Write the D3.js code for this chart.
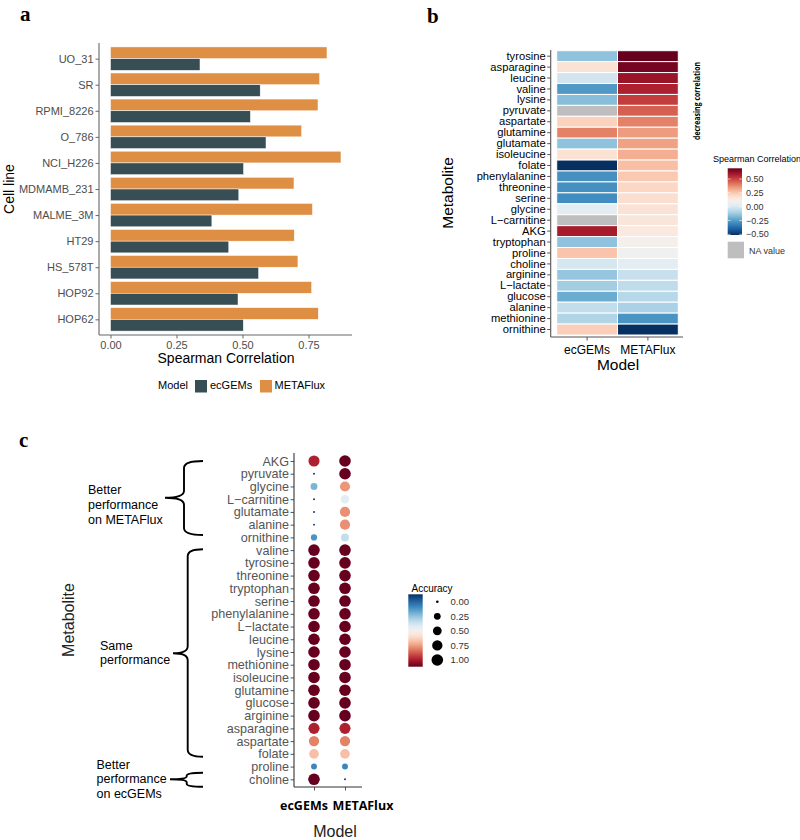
<!DOCTYPE html>
<html><head><meta charset="utf-8">
<script src="https://cdn.jsdelivr.net/npm/d3@7"></script>
<style>body{margin:0;background:#fff}</style>
</head><body>
<svg id="chart" width="800" height="840"></svg>
<script>
// ---------- DATA ----------
const cellLines = ["UO_31","SR","RPMI_8226","O_786","NCI_H226","MDMAMB_231","MALME_3M","HT29","HS_578T","HOP92","HOP62"];
const cellEcGEMs   = [0.339,0.567,0.530,0.589,0.504,0.486,0.384,0.448,0.561,0.483,0.503];
const cellMETAFlux = [0.820,0.792,0.786,0.724,0.873,0.695,0.765,0.696,0.710,0.762,0.787];
const modelNames = ["ecGEMs","METAFlux"];
const corrTicks = [0, 0.25, 0.5, 0.75];

const heatMetabolites = ["tyrosine","asparagine","leucine","valine","lysine","pyruvate","aspartate","glutamine","glutamate","isoleucine","folate","phenylalanine","threonine","serine","glycine","L\u2212carnitine","AKG","tryptophan","proline","choline","arginine","L\u2212lactate","glucose","alanine","methionine","ornithine"];
const heatEcGEMs   = [-0.151,0.175,-0.018,-0.26,-0.163,null,0.223,0.392,-0.151,0.175,-0.513,-0.284,-0.284,-0.29,0.03,null,0.585,-0.151,0.26,-0.006,-0.139,-0.115,-0.211,-0.054,-0.09,0.235];
const heatMETAFlux = [0.694,0.67,0.61,0.573,0.513,0.453,0.392,0.344,0.332,0.308,0.272,0.247,0.211,0.187,0.169,0.157,0.145,0.103,0.078,0.03,-0.042,-0.06,-0.078,-0.103,-0.272,-0.513];
const heatLimits = [-0.513, 0.694];
const heatTicks = [0.5, 0.25, 0, -0.25, -0.5];

const dotMetabolites = ["AKG","pyruvate","glycine","L\u2212carnitine","glutamate","alanine","ornithine","valine","tyrosine","threonine","tryptophan","serine","phenylalanine","L\u2212lactate","leucine","lysine","methionine","isoleucine","glutamine","glucose","arginine","asparagine","aspartate","folate","proline","choline"];
const accEcGEMs   = [0.9,0,0.27,0,0,0,0.2,1,1,1,1,1,1,1,1,1,1,1,1,1,1,0.9,0.75,0.65,0.17,1];
const accMETAFlux = [1,1,0.72,0.45,0.73,0.73,0.38,1,1,1,1,1,1,1,1,1,1,1,1,1,1,0.9,0.75,0.65,0.17,0];
const accTicks = [0, 0.25, 0.5, 0.75, 1];

const colEc = "#374E55", colMF = "#DF8F44";
const sans = "'Liberation Sans', Arial, sans-serif";

const svg = d3.select("#chart");
svg.append("rect").attr("width",800).attr("height",840).attr("fill","#fff");

function panelLabel(t, x, y){
  svg.append("text").attr("x",x).attr("y",y).text(t)
    .attr("font-family","'Liberation Serif', 'DejaVu Serif', serif")
    .attr("font-weight","bold").attr("font-size",21).attr("fill","#000");
}
panelLabel("a", 20, 21);
panelLabel("b", 427, 23);
panelLabel("c", 19, 447);

// ---------- PANEL A ----------
{
  const g = svg.append("g");
  const y = d3.scalePoint().domain(cellLines).range([43, 335]).padding(0.6);
  const step = y.step();
  const x = d3.scaleLinear().domain([0, 0.75]).range([110.5, 308.5]);
  const bw = step * 0.9 / 2;
  cellLines.forEach((c, i) => {
    g.append("rect").attr("x", x(0)).attr("y", y(c) - bw).attr("width", x(cellMETAFlux[i]) - x(0)).attr("height", bw)
      .attr("fill", colMF).attr("stroke","#fff").attr("stroke-width",0.5);
    g.append("rect").attr("x", x(0)).attr("y", y(c)).attr("width", x(cellEcGEMs[i]) - x(0)).attr("height", bw)
      .attr("fill", colEc).attr("stroke","#fff").attr("stroke-width",0.5);
  });
  const xAx = d3.axisBottom(x).tickValues(corrTicks).tickFormat(d3.format(".2f")).tickSize(3.5).tickPadding(3);
  const xg = g.append("g").attr("transform","translate(0,335)").call(xAx);
  xg.select(".domain").remove();
  g.append("line").attr("x1",99).attr("x2",352).attr("y1",335).attr("y2",335).attr("stroke","#666").attr("stroke-width",1.1);
  const yAx = d3.axisLeft(y).tickSize(3.5).tickPadding(2);
  const yg = g.append("g").attr("transform","translate(99,0)").call(yAx);
  yg.select(".domain").remove();
  g.append("line").attr("x1",99).attr("x2",99).attr("y1",43).attr("y2",335).attr("stroke","#666").attr("stroke-width",1.1);
  [xg, yg].forEach(a => {
    a.selectAll("text").attr("font-family",sans).attr("font-size",11).attr("fill","#4D4D4D");
    a.selectAll("line").attr("stroke","#666");
  });
  g.append("text").attr("x",226).attr("y",363).attr("text-anchor","middle").text("Spearman Correlation")
    .attr("font-family",sans).attr("font-size",14).attr("fill","#000");
  g.append("text").attr("transform","translate(14,189) rotate(-90)").attr("text-anchor","middle").text("Cell line")
    .attr("font-family",sans).attr("font-size",14).attr("fill","#000");
  // legend
  g.append("text").attr("x",158).attr("y",389).text("Model").attr("font-family",sans).attr("font-size",11);
  const leg = [[modelNames[0], colEc, 195, 210], [modelNames[1], colMF, 260, 274.5]];
  leg.forEach(([t,c,kx,tx]) => {
    g.append("rect").attr("x",kx).attr("y",380).attr("width",12).attr("height",12.5).attr("fill",c);
    g.append("text").attr("x",tx).attr("y",389).text(t).attr("font-family",sans).attr("font-size",11);
  });
}

// ---------- PANEL B ----------
{
  const g = svg.append("g");
  const x = d3.scaleBand().domain(modelNames).range([556.7, 678.3]);
  const y = d3.scaleBand().domain(heatMetabolites).range([50.7, 335]);
  const color = v => d3.interpolateRdBu(1 - (v - heatLimits[0]) / (heatLimits[1] - heatLimits[0]));
  const cols = [heatEcGEMs, heatMETAFlux];
  modelNames.forEach((m, j) => {
    heatMetabolites.forEach((met, i) => {
      const v = cols[j][i];
      g.append("rect").attr("x", x(m)).attr("y", y(met)).attr("width", x.bandwidth()).attr("height", y.bandwidth())
        .attr("fill", v === null ? "#BEBEBE" : color(v)).attr("stroke","#fff").attr("stroke-width",1);
    });
  });
  const yg = g.append("g").attr("transform","translate(550.7,0)").call(d3.axisLeft(y).tickSize(3.5).tickPadding(1.5));
  yg.select(".domain").remove();
  const xg = g.append("g").attr("transform","translate(0,337)").call(d3.axisBottom(x).tickSize(3.5).tickPadding(5));
  xg.select(".domain").remove();
  [xg, yg].forEach(a => {
    a.selectAll("text").attr("font-family",sans).attr("font-size",12).attr("fill","#000");
    a.selectAll("line").attr("stroke","#555");
  });
  yg.selectAll("text").attr("font-size",11.2);
  g.append("line").attr("x1",550.7).attr("x2",550.7).attr("y1",50).attr("y2",337).attr("stroke","#555").attr("stroke-width",1.1);
  g.append("line").attr("x1",550.7).attr("x2",683).attr("y1",337).attr("y2",337).attr("stroke","#555").attr("stroke-width",1.1);
  g.append("text").attr("x",618).attr("y",370).attr("text-anchor","middle").text("Model")
    .attr("font-family",sans).attr("font-size",15.5).attr("fill","#000");
  g.append("text").attr("transform","translate(453,193) rotate(-90)").attr("text-anchor","middle").text("Metabolite")
    .attr("font-family",sans).attr("font-size",15.5).attr("fill","#000");
  g.append("text").attr("transform","translate(700,101) rotate(-90)").attr("text-anchor","middle").text("decreasing correlation")
    .attr("font-family","'Open Sans', sans-serif").attr("font-weight","bold").attr("font-size",9)
    .attr("textLength",78).attr("lengthAdjust","spacingAndGlyphs").attr("fill","#000");
  // legend
  g.append("text").attr("x",713).attr("y",162).text("Spearman Correlation").attr("font-family",sans).attr("font-size",9);
  const defs = svg.append("defs");
  const grad = defs.append("linearGradient").attr("id","gradB").attr("x1",0).attr("x2",0).attr("y1",1).attr("y2",0);
  d3.range(0, 1.0001, 0.05).forEach(t => grad.append("stop").attr("offset",t).attr("stop-color", d3.interpolateRdBu(1 - t)));
  const lb = d3.scaleLinear().domain(heatLimits).range([235, 168.3]);
  g.append("rect").attr("x",727.7).attr("y",168.3).attr("width",14.3).attr("height",235-168.3).attr("fill","url(#gradB)");
  heatTicks.forEach(t => {
    g.append("line").attr("x1",727.7).attr("x2",730.5).attr("y1",lb(t)).attr("y2",lb(t)).attr("stroke","#fff").attr("stroke-width",0.6);
    g.append("line").attr("x1",739.2).attr("x2",742).attr("y1",lb(t)).attr("y2",lb(t)).attr("stroke","#fff").attr("stroke-width",0.6);
    g.append("text").attr("x",746).attr("y",lb(t)+3.2).text(t === 0 ? "0.00" : d3.format(".2f")(t).replace("-","\u2212"))
      .attr("font-family",sans).attr("font-size",9).attr("fill","#333");
  });
  g.append("rect").attr("x",727.7).attr("y",241.7).attr("width",16.3).attr("height",16.6).attr("fill","#BEBEBE");
  g.append("text").attr("x",749).attr("y",254).text("NA value").attr("font-family",sans).attr("font-size",9).attr("fill","#333");
}

// ---------- PANEL C ----------
{
  const g = svg.append("g");
  const x = d3.scalePoint().domain(modelNames).range([314, 345]);
  const y = d3.scalePoint().domain(dotMetabolites).range([461, 779.3]);
  const r = d3.scaleSqrt().domain([0, 1]).range([0.95, 5.8]);
  const color = v => d3.interpolateRdBu(1 - v);
  const cols = [accEcGEMs, accMETAFlux];
  modelNames.forEach((m, j) => {
    dotMetabolites.forEach((met, i) => {
      const v = cols[j][i];
      g.append("circle").attr("cx", x(m)).attr("cy", y(met)).attr("r", r(v)).attr("fill", color(v));
    });
  });
  const yg = g.append("g").attr("transform","translate(294,0)").call(d3.axisLeft(y).tickSize(3.5).tickPadding(1.5));
  yg.select(".domain").remove();
  yg.selectAll("text").attr("font-family",sans).attr("font-size",12.6).attr("fill","#555");
  yg.selectAll("line").attr("stroke","#555");
  const xg = g.append("g").attr("transform","translate(0,787)").call(d3.axisBottom(x).tickSize(3.5).tickFormat(""));
  xg.select(".domain").remove();
  xg.selectAll("line").attr("stroke","#555");
  g.append("line").attr("x1",294).attr("x2",294).attr("y1",453).attr("y2",787).attr("stroke","#333").attr("stroke-width",1.1);
  g.append("line").attr("x1",294).attr("x2",362).attr("y1",787).attr("y2",787).attr("stroke","#333").attr("stroke-width",1.1);
  // bold model labels (spread apart as in the figure)
  [[modelNames[0], 304],[modelNames[1], 363]].forEach(([t, cx]) => {
    g.append("text").attr("x",cx).attr("y",810).attr("text-anchor","middle").text(t)
      .attr("font-family","'Open Sans', sans-serif").attr("font-weight","bold").attr("font-size",12.5).attr("fill","#000");
  });
  g.append("text").attr("x",335).attr("y",837).attr("text-anchor","middle").text("Model")
    .attr("font-family",sans).attr("font-size",16).attr("fill","#222");
  g.append("text").attr("transform","translate(74,620) rotate(-90)").attr("text-anchor","middle").text("Metabolite")
    .attr("font-family",sans).attr("font-size",16).attr("fill","#222");

  // braces
  function brace(top, bottom, spine, hook, tip, mid, rr){
    const d = `M${hook},${top} Q${spine},${top} ${spine},${top+rr} L${spine},${mid-rr} Q${spine},${mid} ${tip},${mid} Q${spine},${mid} ${spine},${mid+rr} L${spine},${bottom-rr} Q${spine},${bottom} ${hook},${bottom}`;
    g.append("path").attr("d", d).attr("fill","none").attr("stroke","#000").attr("stroke-width",1.9);
  }
  brace(461, 535, 184, 203, 165, 497.7, 7);
  brace(549.3, 756.7, 187.7, 203, 173, 653.3, 7);
  brace(772.7, 786.7, 186.7, 203, 170, 779.3, 3);
  function note(lines, x0, y0, dy){
    lines.forEach((t, i) => g.append("text").attr("x",x0).attr("y",y0 + i*dy).text(t)
      .attr("font-family",sans).attr("font-size",12.5).attr("fill","#000"));
  }
  note(["Better","performance","on METAFlux"], 88, 493.5, 15);
  note(["Same","performance"], 100, 649.5, 14.5);
  note(["Better","performance","on ecGEMs"], 96.5, 768.5, 14.5);

  // legend
  g.append("text").attr("x",411.5).attr("y",591.5).text("Accuracy").attr("font-family",sans).attr("font-size",10);
  const defs = svg.append("defs");
  const grad = defs.append("linearGradient").attr("id","gradC").attr("x1",0).attr("x2",0).attr("y1",0).attr("y2",1);
  d3.range(0, 1.0001, 0.05).forEach(t => grad.append("stop").attr("offset",t).attr("stop-color", color(t)));
  g.append("rect").attr("x",408.3).attr("y",594.3).attr("width",14.4).attr("height",72.4).attr("fill","url(#gradC)");
  const ly = d3.scalePoint().domain(accTicks).range([601.7, 660]);
  accTicks.forEach(t => {
    g.append("circle").attr("cx",437.3).attr("cy",ly(t)).attr("r", Math.max(1.3, r(t))).attr("fill","#000");
    g.append("text").attr("x",450.5).attr("y",ly(t)+3.3).text(d3.format(".2f")(t))
      .attr("font-family",sans).attr("font-size",9.5).attr("fill","#333");
  });
}
</script>
</body></html>
